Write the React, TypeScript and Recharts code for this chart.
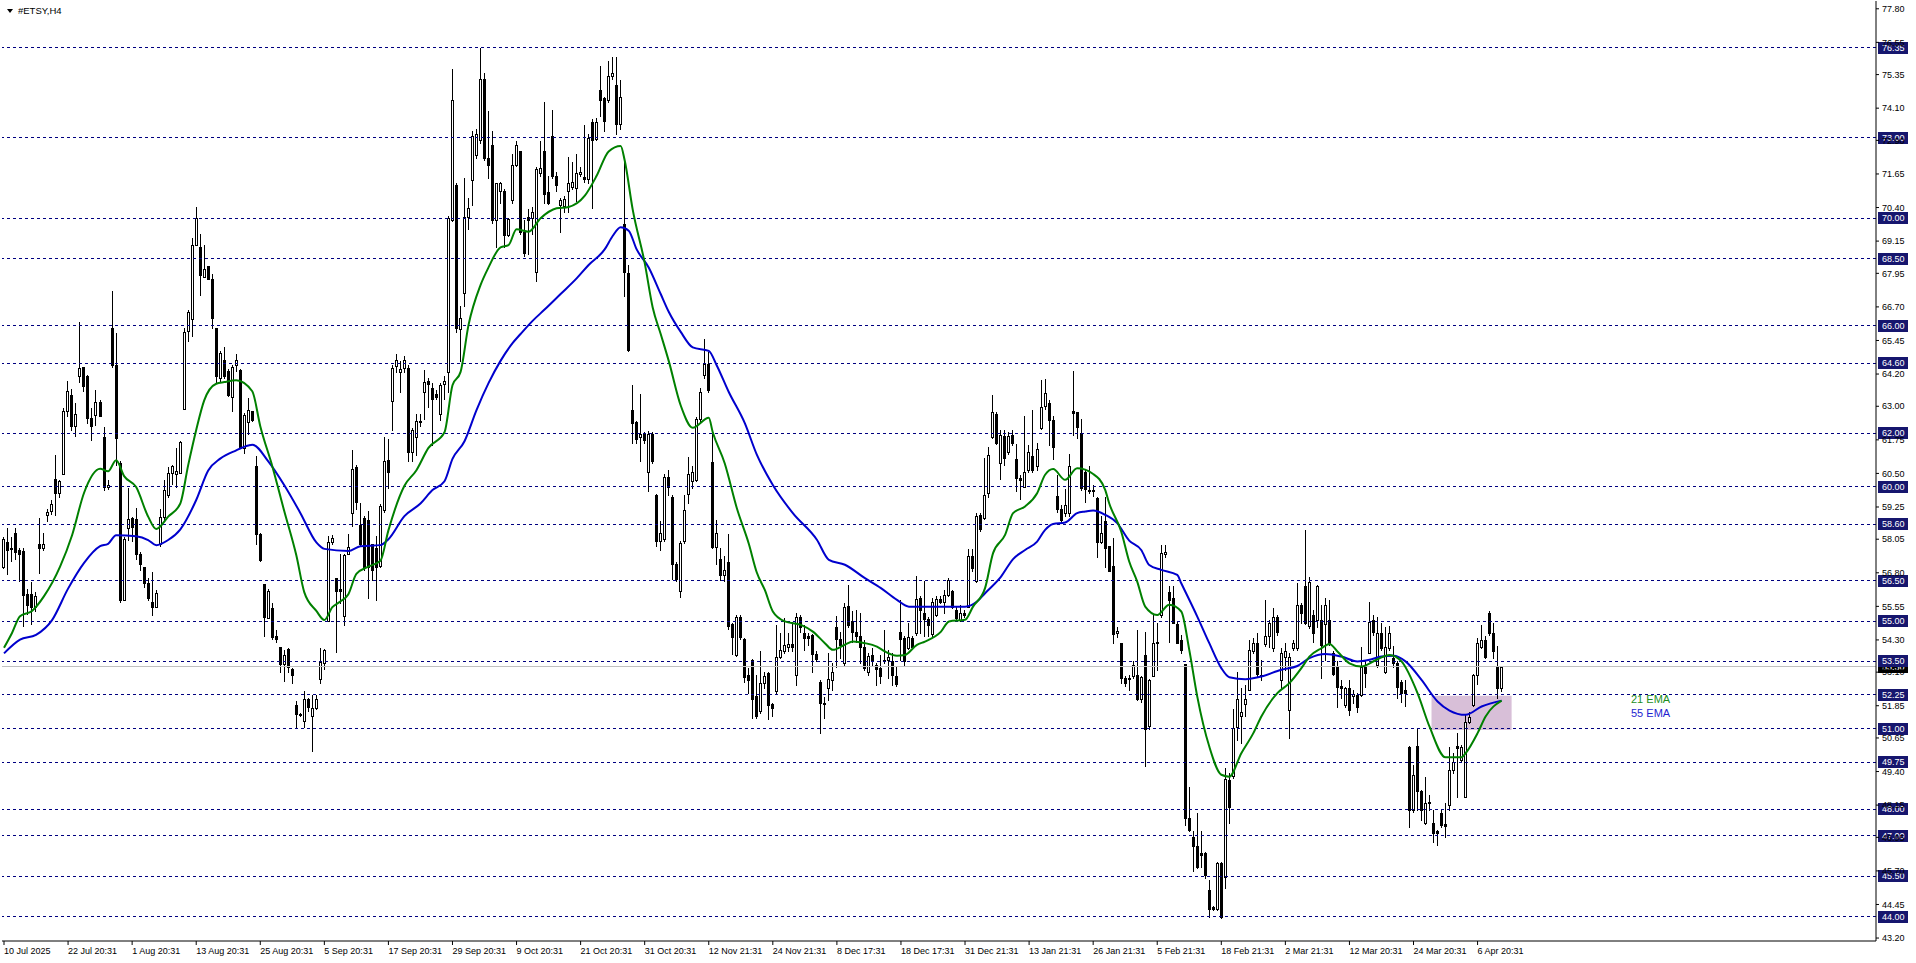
import React from "react";
import {
  ComposedChart,
  Bar,
  Line,
  XAxis,
  YAxis,
  ReferenceLine,
  ReferenceArea,
} from "recharts";

// H4 candles, [open, high, low, close], one per bar
const ohlc: [number, number, number, number][] = [
  [57.03, 58.13, 56.96, 58.06], [57.93, 58.48, 56.76, 57.65], [57.72, 58.13, 57.24, 57.7], [58.27, 58.48, 57.31, 57.58],
  [57.65, 57.72, 56.48, 57.51], [57.61, 57.72, 54.83, 55.98], [56.0, 56.21, 55.25, 55.59], [56.0, 56.44, 54.9, 55.52],
  [55.52, 56.07, 55.38, 55.93], [57.86, 58.85, 56.8, 57.72], [57.72, 58.3, 57.65, 57.88], [58.96, 59.16, 58.71, 59.07],
  [59.09, 59.51, 58.98, 59.37], [60.3, 61.18, 58.96, 59.78], [59.78, 60.26, 59.64, 60.22], [60.47, 62.94, 60.47, 62.83],
  [62.83, 63.95, 62.64, 63.56], [63.42, 63.63, 62.12, 62.26], [62.26, 63.11, 61.91, 62.71], [64.11, 66.14, 63.9, 64.41],
  [64.45, 64.48, 63.56, 63.77], [64.14, 64.18, 62.39, 62.57], [62.57, 62.94, 61.75, 62.26], [62.67, 63.6, 62.3, 63.15],
  [63.15, 63.22, 62.64, 62.64], [61.87, 62.23, 59.89, 59.99], [59.99, 60.26, 59.92, 60.08], [65.9, 67.31, 64.45, 64.52],
  [64.52, 65.73, 60.81, 61.82], [60.88, 60.95, 55.73, 55.77], [55.77, 58.13, 55.77, 58.06], [58.48, 59.95, 58.02, 58.82],
  [58.85, 58.89, 57.99, 58.52], [58.82, 59.23, 57.31, 57.51], [57.51, 57.58, 56.9, 57.14], [57.01, 57.03, 56.28, 56.41],
  [56.41, 56.62, 55.8, 55.87], [55.73, 56.83, 55.22, 55.52], [55.52, 56.17, 55.52, 56.03], [57.86, 59.16, 57.79, 58.89],
  [58.89, 60.26, 58.82, 59.89], [59.71, 60.74, 59.64, 60.5], [60.5, 60.8, 60.12, 60.77], [60.47, 61.43, 59.99, 60.58],
  [60.52, 61.71, 60.5, 61.66], [62.91, 65.9, 62.91, 65.76], [65.8, 66.58, 65.42, 66.52], [66.24, 69.26, 65.62, 68.99],
  [68.99, 70.43, 68.99, 70.02], [68.92, 69.4, 67.13, 67.89], [67.82, 68.99, 67.8, 68.12], [68.23, 68.23, 67.75, 67.75],
  [67.75, 67.92, 65.9, 66.27], [65.92, 65.92, 63.9, 64.11], [64.04, 65.07, 63.9, 65.0], [64.73, 65.21, 64.04, 64.11],
  [64.32, 64.39, 63.4, 63.42], [63.35, 64.55, 62.81, 64.48], [64.55, 64.93, 64.32, 64.73], [64.34, 64.39, 61.43, 61.43],
  [61.43, 62.74, 61.27, 62.67], [62.43, 63.29, 61.98, 62.87], [62.81, 62.83, 62.46, 62.5], [60.77, 61.16, 57.86, 58.24],
  [58.23, 58.27, 57.24, 57.27], [56.37, 56.37, 54.45, 55.15], [55.11, 56.21, 55.11, 56.14], [55.48, 55.69, 54.35, 54.42],
  [54.45, 54.66, 54.22, 54.35], [54.05, 54.05, 53.12, 53.42], [53.39, 53.94, 52.77, 53.73], [53.98, 54.01, 53.12, 53.29],
  [53.21, 53.24, 52.7, 52.98], [51.88, 52.02, 51.01, 51.54], [51.56, 51.59, 51.47, 51.51], [51.3, 52.4, 51.06, 52.09],
  [52.11, 52.15, 51.67, 51.81], [51.47, 52.25, 50.16, 51.77], [51.77, 52.25, 51.74, 52.11], [52.84, 54.01, 52.7, 53.46],
  [53.43, 53.98, 53.21, 53.94], [55.0, 58.16, 55.0, 57.93], [57.93, 58.2, 57.86, 58.09], [56.59, 56.62, 53.84, 56.14],
  [56.18, 57.51, 55.66, 56.14], [55.18, 57.51, 54.87, 57.45], [57.51, 58.24, 57.51, 57.75], [59.03, 61.36, 58.54, 60.67],
  [60.74, 60.81, 59.16, 59.44], [58.57, 59.4, 57.79, 57.86], [58.85, 58.93, 56.9, 57.03], [58.75, 59.09, 55.87, 57.03],
  [57.86, 57.88, 56.55, 56.9], [57.72, 58.16, 55.8, 57.03], [57.05, 59.35, 57.0, 59.3], [59.13, 61.87, 59.05, 60.96],
  [60.99, 61.78, 59.96, 60.54], [63.2, 64.52, 62.12, 64.44], [64.49, 64.94, 64.27, 64.72], [64.27, 64.69, 63.53, 64.39],
  [64.44, 64.86, 64.27, 64.72], [64.44, 64.52, 60.96, 61.29], [61.29, 62.2, 60.96, 62.12], [61.87, 62.7, 61.2, 62.45],
  [62.4, 62.7, 62.25, 62.45], [63.53, 64.36, 62.53, 63.89], [63.94, 64.06, 62.99, 63.83], [63.69, 63.86, 61.54, 63.28],
  [63.45, 63.61, 63.28, 63.36], [62.73, 63.86, 62.5, 63.81], [63.83, 64.11, 63.28, 63.94], [64.27, 70.08, 63.53, 70.0],
  [69.92, 75.56, 69.9, 74.4], [71.25, 71.33, 65.77, 65.93], [65.88, 66.73, 64.69, 66.27], [67.21, 71.49, 66.73, 70.05],
  [70.05, 70.75, 69.59, 70.38], [71.41, 73.24, 70.5, 73.07], [72.36, 73.32, 72.24, 73.12], [72.91, 76.34, 72.82, 75.18],
  [75.18, 75.4, 72.16, 72.24], [72.24, 73.98, 71.49, 71.99], [72.74, 73.24, 69.83, 69.92], [69.92, 71.33, 68.92, 71.33],
  [71.03, 71.36, 70.58, 71.3], [71.03, 71.08, 68.92, 69.39], [69.39, 70.0, 69.34, 69.97], [70.67, 72.41, 70.58, 71.99],
  [71.99, 72.86, 71.96, 72.71], [72.49, 72.52, 69.42, 69.5], [69.5, 69.92, 68.59, 68.71], [70.03, 70.33, 68.67, 69.92],
  [70.0, 70.41, 69.42, 70.25], [68.01, 71.91, 67.68, 71.83], [71.69, 72.86, 71.58, 71.88], [72.49, 74.32, 70.58, 70.91],
  [70.96, 71.58, 70.53, 70.58], [73.07, 74.02, 71.49, 71.58], [71.58, 71.74, 71.0, 71.25], [70.5, 70.75, 69.5, 70.67],
  [70.46, 70.83, 70.25, 70.7], [71.0, 72.29, 70.25, 71.33], [71.16, 72.08, 71.08, 71.36], [71.13, 72.41, 70.63, 71.69],
  [71.66, 71.91, 71.58, 71.72], [71.53, 73.49, 71.36, 71.46], [71.46, 73.15, 71.33, 72.99], [73.57, 73.69, 70.37, 72.91],
  [72.96, 73.74, 72.91, 73.57], [74.78, 75.68, 73.82, 74.4], [74.48, 74.51, 73.24, 73.62], [74.4, 75.84, 74.32, 75.28],
  [75.28, 76.01, 75.18, 75.4], [74.98, 76.01, 73.15, 73.52], [73.52, 75.15, 73.32, 74.52], [69.8, 72.24, 67.1, 68.01],
  [67.98, 68.26, 65.06, 65.11], [62.86, 63.78, 61.62, 62.37], [62.4, 62.45, 61.62, 61.78], [61.87, 63.45, 60.96, 61.95],
  [61.95, 62.03, 61.62, 61.73], [60.54, 62.07, 59.84, 61.95], [61.95, 62.03, 60.87, 60.96], [59.71, 59.74, 57.8, 57.97],
  [57.97, 58.71, 57.64, 58.3], [58.05, 60.46, 57.97, 60.37], [60.37, 60.62, 59.71, 59.99], [59.63, 59.68, 56.56, 57.14],
  [57.14, 57.22, 56.48, 56.56], [56.14, 57.97, 55.89, 57.92], [57.97, 59.71, 57.92, 59.13], [59.74, 61.12, 59.38, 60.46],
  [60.21, 60.79, 59.96, 60.54], [60.24, 62.61, 60.21, 62.53], [62.53, 63.69, 62.45, 63.53], [64.16, 65.49, 64.06, 64.56],
  [64.56, 65.02, 63.53, 63.61], [60.91, 61.95, 57.72, 57.75], [57.75, 58.75, 57.14, 58.3], [57.3, 57.72, 56.52, 56.72],
  [56.72, 57.42, 56.48, 56.92], [57.19, 58.25, 54.7, 54.81], [54.9, 54.93, 53.77, 54.4], [53.73, 55.23, 53.7, 55.15],
  [55.15, 55.23, 54.32, 54.4], [54.32, 54.37, 52.74, 52.91], [53.0, 53.24, 52.32, 52.82], [53.57, 53.6, 51.41, 52.11],
  [52.2, 53.0, 51.39, 51.45], [51.64, 53.87, 51.57, 52.69], [52.69, 53.12, 52.51, 52.94], [53.06, 53.12, 51.35, 51.88],
  [51.92, 51.94, 51.45, 51.76], [52.38, 54.86, 52.32, 53.68], [53.68, 54.55, 53.62, 53.93], [53.87, 55.11, 53.81, 54.12],
  [54.03, 54.55, 53.87, 54.15], [54.15, 54.95, 53.87, 54.03], [53.0, 55.3, 52.63, 55.17], [55.17, 55.23, 54.61, 54.8],
  [54.55, 54.86, 53.93, 54.37], [54.45, 54.55, 54.12, 54.37], [54.49, 54.52, 53.12, 53.78], [53.78, 53.87, 53.5, 53.58],
  [52.75, 52.81, 50.85, 51.95], [51.97, 52.19, 51.39, 51.92], [52.5, 53.81, 52.07, 52.84], [52.81, 53.43, 52.44, 53.09],
  [54.8, 55.2, 53.31, 54.33], [54.33, 54.58, 53.62, 54.12], [53.43, 55.69, 53.37, 55.54], [55.56, 56.35, 54.8, 54.86],
  [54.99, 55.36, 54.24, 54.61], [54.58, 55.42, 54.24, 54.45], [54.45, 55.3, 53.43, 54.03], [54.05, 54.3, 53.19, 53.25],
  [53.09, 53.81, 53.0, 53.71], [53.74, 53.99, 53.34, 53.56], [53.37, 53.43, 52.63, 53.21], [53.25, 53.74, 52.69, 52.94],
  [53.56, 54.68, 53.43, 53.5], [53.56, 53.93, 52.88, 53.68], [53.53, 53.81, 52.63, 53.0], [52.96, 53.31, 52.59, 52.65],
  [54.61, 55.79, 53.56, 54.33], [54.37, 54.43, 53.37, 53.5], [53.99, 54.92, 53.96, 54.4], [54.37, 54.43, 53.99, 54.05],
  [54.55, 56.69, 54.49, 55.82], [55.85, 55.92, 54.55, 55.42], [55.3, 56.51, 54.43, 55.07], [55.07, 55.17, 54.43, 54.86],
  [54.53, 55.85, 54.4, 55.73], [55.23, 55.92, 55.2, 55.82], [55.82, 55.92, 55.67, 55.73], [55.73, 56.17, 55.3, 55.98],
  [55.98, 56.6, 55.92, 56.54], [56.14, 56.17, 55.48, 55.54], [55.4, 55.54, 55.05, 55.11], [55.05, 55.61, 55.02, 55.3],
  [55.3, 55.42, 55.17, 55.23], [55.54, 57.68, 55.51, 57.43], [57.43, 57.68, 56.85, 56.97], [56.48, 59.02, 56.44, 58.9],
  [58.96, 59.02, 58.37, 58.42], [58.83, 61.07, 58.8, 59.7], [59.76, 61.5, 59.64, 61.19], [61.85, 63.42, 61.81, 62.77],
  [62.72, 62.77, 61.6, 61.65], [60.88, 62.12, 60.29, 61.94], [61.9, 62.1, 60.82, 61.07], [61.28, 62.06, 61.23, 61.9],
  [61.94, 62.12, 61.56, 61.63], [61.03, 61.6, 59.83, 60.32], [60.32, 60.44, 59.54, 60.24], [60.01, 62.62, 59.99, 60.57],
  [60.61, 61.56, 60.57, 61.28], [61.15, 62.87, 60.57, 60.61], [60.78, 61.63, 60.63, 61.4], [62.18, 63.98, 62.15, 62.97],
  [63.01, 64.01, 62.89, 63.51], [63.14, 63.24, 61.56, 62.49], [62.49, 62.62, 61.03, 61.5], [59.66, 60.45, 59.08, 59.17],
  [59.17, 59.33, 58.67, 58.75], [59.04, 59.91, 58.92, 59.33], [59.04, 61.23, 58.92, 60.76], [62.84, 64.33, 61.94, 62.74],
  [62.77, 62.8, 61.81, 62.22], [62.0, 62.52, 59.89, 59.95], [60.57, 60.66, 59.45, 59.91], [59.89, 60.76, 59.76, 59.83],
  [59.89, 60.07, 59.66, 59.85], [59.58, 59.64, 57.38, 57.96], [57.96, 58.9, 57.9, 58.3], [58.71, 59.64, 57.03, 57.72],
  [57.78, 57.8, 56.85, 56.88], [57.06, 58.09, 54.2, 54.53], [54.55, 54.8, 54.4, 54.65], [54.18, 54.2, 52.69, 52.88],
  [52.88, 52.94, 52.59, 52.69], [52.84, 53.0, 52.44, 52.88], [52.94, 53.5, 52.88, 53.37], [53.0, 54.67, 52.07, 52.09],
  [52.09, 52.94, 52.0, 52.91], [53.74, 54.61, 49.61, 50.98], [51.08, 52.84, 50.98, 52.81], [52.96, 55.23, 52.94, 54.18],
  [54.18, 54.92, 53.19, 54.24], [55.23, 57.84, 55.17, 57.53], [57.5, 57.84, 57.4, 57.59], [56.1, 56.29, 54.24, 55.79],
  [55.85, 56.29, 54.92, 54.92], [54.9, 54.98, 54.18, 54.18], [54.28, 54.49, 53.83, 53.93], [53.41, 53.41, 47.41, 47.66],
  [47.66, 48.84, 47.17, 47.23], [46.98, 47.17, 45.68, 46.61], [46.63, 47.85, 45.8, 45.86], [46.36, 47.17, 45.86, 46.3],
  [46.36, 46.42, 45.43, 45.55], [45.0, 45.37, 44.0, 44.28], [44.35, 44.39, 44.26, 44.28], [44.28, 46.05, 44.26, 45.99],
  [45.99, 46.05, 43.94, 44.0], [45.47, 49.52, 45.06, 49.11], [49.09, 49.34, 47.5, 48.07], [49.24, 51.72, 49.15, 51.01],
  [51.07, 53.12, 50.58, 52.09], [51.45, 52.5, 50.46, 51.63], [51.92, 52.63, 51.45, 52.09], [52.44, 54.28, 52.42, 53.93],
  [53.87, 54.37, 53.83, 54.18], [54.18, 54.55, 52.94, 53.04], [52.94, 53.56, 52.81, 53.0], [54.15, 55.79, 54.08, 54.45],
  [54.45, 55.05, 54.05, 54.92], [53.99, 55.48, 53.87, 55.17], [55.14, 55.23, 54.49, 54.58], [52.81, 53.99, 52.5, 53.83],
  [53.68, 54.18, 53.19, 53.87], [51.7, 53.8, 50.64, 53.68], [53.99, 54.3, 53.93, 54.18], [53.99, 56.41, 53.93, 55.61],
  [55.61, 55.69, 54.92, 55.3], [56.29, 58.4, 54.9, 54.92], [54.82, 56.66, 54.74, 56.47], [55.23, 55.42, 54.24, 54.55],
  [55.05, 56.35, 54.8, 56.29], [55.05, 55.61, 52.88, 54.12], [54.9, 55.85, 53.56, 55.61], [55.05, 55.79, 54.12, 54.18],
  [53.81, 53.87, 53.0, 53.04], [53.33, 53.5, 51.82, 52.56], [52.59, 52.81, 52.13, 52.5], [51.88, 52.56, 51.82, 52.5],
  [52.5, 52.81, 51.51, 51.7], [52.22, 52.44, 51.95, 52.3], [52.25, 52.34, 51.63, 51.82], [52.25, 54.05, 52.22, 53.31],
  [53.31, 53.56, 52.56, 53.06], [53.83, 55.73, 53.81, 54.98], [55.05, 55.23, 54.49, 54.61], [53.37, 55.17, 53.31, 54.55],
  [54.55, 54.92, 53.93, 53.99], [53.12, 54.8, 53.06, 54.05], [53.99, 54.82, 53.93, 54.55], [53.62, 54.08, 53.31, 53.43],
  [53.43, 53.5, 52.13, 52.56], [52.75, 52.81, 52.0, 52.32], [52.44, 52.81, 51.85, 52.34], [50.33, 50.36, 47.35, 47.97],
  [47.97, 49.65, 47.91, 49.28], [50.36, 50.98, 47.97, 48.66], [48.66, 48.72, 47.6, 47.97], [47.48, 49.21, 47.45, 48.22],
  [48.28, 48.53, 47.97, 48.22], [47.48, 47.97, 46.76, 47.1], [47.17, 47.23, 46.67, 47.1], [47.87, 47.97, 47.35, 47.41],
  [47.45, 48.22, 46.98, 47.38], [48.16, 50.33, 47.97, 49.46], [49.46, 50.08, 49.34, 49.77], [50.36, 50.83, 48.47, 50.27],
  [49.84, 50.39, 49.77, 50.33], [48.47, 51.51, 48.44, 51.26], [51.26, 51.63, 51.2, 51.42], [51.88, 53.04, 51.85, 53.0],
  [53.0, 54.37, 52.66, 54.18], [54.05, 54.86, 53.99, 54.3], [54.3, 54.43, 53.62, 53.68], [55.3, 55.39, 54.49, 54.55],
  [54.55, 54.92, 53.62, 53.87], [53.31, 54.08, 52.13, 52.5], [52.5, 53.34, 52.41, 53.31],
];

// 21 EMA read at sampled bars: [bar, value]
const ema21Points: [number, number][] = [
  [0, 54.01], [2, 54.56], [4, 55.18], [7, 55.38], [10, 55.93], [14, 57.03], [17, 58.2], [20, 59.78], [24, 60.67],
  [26, 60.58], [28, 60.99], [30, 60.4], [33, 59.99], [36, 58.89], [38, 58.43], [41, 58.89], [44, 59.37], [46, 60.81],
  [48, 62.12], [50, 63.22], [53, 63.84], [55, 63.9], [58, 63.97], [62, 63.56], [64, 62.26], [67, 60.77], [70, 59.09],
  [73, 57.45], [75, 56.07], [78, 55.38], [80, 55.04], [82, 55.52], [84, 55.73], [86, 56.0], [88, 56.76], [91, 57.03],
  [94, 57.25], [96, 58.38], [100, 60.04], [103, 60.62], [106, 61.45], [110, 62.03], [112, 63.78], [114, 64.27],
  [116, 66.02], [119, 67.51], [121, 68.17], [124, 68.92], [126, 69.0], [128, 69.59], [131, 69.5], [134, 70.0],
  [138, 70.37], [141, 70.42], [145, 70.83], [148, 71.58], [151, 72.49], [154, 72.69], [155, 72.16], [157, 70.33],
  [160, 68.34], [162, 66.68], [164, 65.69], [166, 64.69], [169, 63.03], [172, 62.2], [176, 62.57], [177, 62.03],
  [180, 60.87], [183, 59.21], [186, 57.88], [188, 56.81], [190, 56.16], [192, 55.36], [195, 54.99], [199, 54.86],
  [202, 54.61], [205, 54.18], [207, 53.93], [210, 54.12], [212, 54.24], [215, 54.18], [218, 54.05], [220, 53.87],
  [223, 53.71], [225, 53.74], [228, 54.12], [230, 54.24], [234, 54.61], [236, 54.99], [240, 55.05], [242, 55.54],
  [245, 56.23], [247, 57.53], [250, 58.21], [252, 59.02], [255, 59.27], [258, 59.76], [260, 60.45], [262, 60.66],
  [265, 60.26], [268, 60.69], [272, 60.48], [275, 59.89], [276, 59.39], [279, 58.34], [281, 57.22], [283, 56.47],
  [285, 55.54], [288, 55.23], [291, 55.61], [294, 55.36], [296, 53.93], [298, 52.19], [301, 50.33], [304, 49.28],
  [306, 49.21], [309, 50.08], [312, 50.83], [314, 51.45], [318, 52.32], [321, 52.69], [324, 53.25], [326, 53.68],
  [329, 53.99], [331, 54.15], [333, 53.87], [336, 53.43], [339, 53.31], [343, 53.58], [346, 53.74], [349, 53.5],
  [353, 52.32], [356, 51.07], [360, 49.93], [364, 49.93], [365, 50.08], [368, 50.83], [370, 51.45], [374, 52.04],
];

// 55 EMA read at sampled bars: [bar, value]
const ema55Points: [number, number][] = [
  [0, 53.8], [4, 54.31], [8, 54.49], [12, 55.04], [16, 56.21], [20, 57.17], [24, 57.79], [26, 57.88], [28, 58.2],
  [33, 58.16], [36, 58.02], [38, 57.83], [41, 58.02], [44, 58.41], [48, 59.51], [51, 60.61], [54, 61.05], [58, 61.36],
  [61, 61.54], [62, 61.57], [66, 60.95], [70, 60.06], [74, 59.03], [78, 57.93], [80, 57.69], [86, 57.61], [89, 57.79],
  [94, 57.83], [96, 58.05], [100, 58.91], [104, 59.38], [107, 59.88], [110, 60.21], [112, 61.04], [115, 61.7],
  [118, 62.86], [121, 63.86], [124, 64.69], [127, 65.35], [129, 65.69], [132, 66.18], [135, 66.6], [139, 67.18],
  [143, 67.76], [146, 68.26], [150, 68.84], [152, 69.34], [154, 69.67], [156, 69.54], [158, 68.84], [161, 68.17],
  [164, 67.18], [166, 66.52], [169, 65.77], [172, 65.19], [176, 65.06], [178, 64.52], [181, 63.53], [185, 62.37],
  [188, 61.2], [192, 60.07], [197, 59.02], [203, 58.03], [206, 57.28], [210, 57.1], [215, 56.6], [219, 56.23],
  [223, 55.79], [226, 55.54], [230, 55.54], [235, 55.54], [240, 55.54], [243, 55.73], [245, 56.04], [249, 56.66],
  [252, 57.31], [255, 57.65], [258, 57.96], [260, 58.4], [262, 58.62], [265, 58.67], [268, 59.02], [270, 59.08],
  [272, 59.12], [275, 58.96], [278, 58.65], [281, 58.0], [284, 57.65], [286, 57.09], [289, 56.91], [293, 56.72],
  [294, 56.41], [298, 55.17], [301, 54.18], [304, 53.25], [306, 52.91], [310, 52.84], [314, 52.94], [319, 53.19],
  [323, 53.33], [326, 53.62], [330, 53.78], [334, 53.68], [338, 53.5], [341, 53.56], [344, 53.68], [347, 53.71],
  [350, 53.5], [354, 52.81], [358, 52.01], [361, 51.67], [365, 51.51], [369, 51.82], [374, 52.04],
];

const levels = [76.35, 73.0, 70.0, 68.5, 66.0, 64.6, 62.0, 60.0, 58.6, 56.5, 55.0, 53.5, 52.25, 51.0, 49.75, 48.0, 47.0, 45.5, 44.0];

const priceTicks = [
  77.8, 76.55, 75.35, 74.1, 72.9, 71.65, 70.4, 69.15, 67.95, 66.7, 65.45, 64.2, 63.0, 61.75, 60.5, 59.25, 58.05,
  56.8, 55.55, 54.3, 53.1, 51.85, 50.65, 49.4, 48.15, 46.95, 45.7, 44.45, 43.2,
];

const timeLabels = [
  "10 Jul 2025", "22 Jul 20:31", "1 Aug 20:31", "13 Aug 20:31", "25 Aug 20:31", "5 Sep 20:31", "17 Sep 20:31",
  "29 Sep 20:31", "9 Oct 20:31", "21 Oct 20:31", "31 Oct 20:31", "12 Nov 21:31", "24 Nov 21:31", "8 Dec 17:31",
  "18 Dec 17:31", "31 Dec 21:31", "13 Jan 21:31", "26 Jan 21:31", "5 Feb 21:31", "18 Feb 21:31", "2 Mar 21:31",
  "12 Mar 20:31", "24 Mar 20:31", "6 Apr 20:31",
];
const timeLabelStep = 16;

const lastPrice = 53.3;
const zoneLow = 50.95;
const zoneHigh = 52.22;
const zoneFrom = 357;
const zoneTo = 376;

const SLOTS = 468; // bars plus empty space to the right, like the terminal's shift
const FONT = "'Liberation Sans', Arial, sans-serif";
const NAVY = "#16166e";

type Row = {
  t: number;
  range: [number, number] | null;
  o?: number;
  h?: number;
  l?: number;
  c?: number;
  e21?: number;
  e55?: number;
};

const rows: Row[] = Array.from({ length: SLOTS }, (_, t) => {
  const k = ohlc[t];
  if (!k) return { t, range: null };
  const [o, h, l, c] = k;
  return { t, range: [l, h], o, h, l, c };
});
ema21Points.forEach(([i, v]) => (rows[i].e21 = v));
ema55Points.forEach(([i, v]) => (rows[i].e55 = v));

const timeTicks = timeLabels.map((_, i) => i * timeLabelStep);

function Candle(props: any) {
  const { x, y, width, height, payload } = props;
  if (!payload || payload.o == null) return null;
  const top = Math.min(y, y + height);
  const bot = Math.max(y, y + height);
  const span = payload.h - payload.l;
  const py = (p: number) => (span > 0 ? top + ((payload.h - p) / span) * (bot - top) : top);
  const cx = Math.floor(x + width / 2);
  const yo = py(payload.o);
  const yc = py(payload.c);
  const bt = Math.round(Math.min(yo, yc));
  const bb = Math.round(Math.max(yo, yc));
  const up = payload.c >= payload.o;
  return (
    <g shapeRendering="crispEdges">
      <line x1={cx + 0.5} x2={cx + 0.5} y1={Math.round(top)} y2={Math.round(bot) + 1} stroke="#000" strokeWidth={1} />
      {up ? (
        <rect x={cx - 0.5} y={bt + 0.5} width={2} height={Math.max(bb - bt, 1)} fill="#fff" stroke="#000" strokeWidth={1} />
      ) : (
        <rect x={cx - 1} y={bt} width={3} height={Math.max(bb - bt, 1) + 1} fill="#000" />
      )}
    </g>
  );
}

function TimeTick(props: any) {
  const { x, y, payload } = props;
  const label = timeLabels[Math.round(payload.value / timeLabelStep)];
  return (
    <text x={x} y={y} dy={9} fontSize={9} fontFamily={FONT} fill="#000" textAnchor="start">
      {label}
    </text>
  );
}

// price box on the right scale, for levels and the bid line
const priceBox = (text: string, fill: string) => (props: any) => {
  const vb = props.viewBox || {};
  const right = (vb.x || 0) + (vb.width || 0);
  const y = Math.round(vb.y || 0);
  return (
    <g>
      <rect x={right + 2} y={y - 6} width={30} height={12} fill={fill} shapeRendering="crispEdges" />
      <text x={right + 6} y={y} dy="0.35em" fontSize={9} fontFamily={FONT} fill="#fff">
        {text}
      </text>
    </g>
  );
};

export default function App() {
  return (
    <div style={{ position: "absolute", left: 0, top: 0, width: 1916, height: 963, background: "#fff" }}>
      <ComposedChart
        width={1916}
        height={963}
        data={rows}
        margin={{ top: 1, right: 0, bottom: 0, left: 2 }}
        barCategoryGap="10%"
      >
        <XAxis
          dataKey="t"
          type="category"
          ticks={timeTicks}
          interval={0}
          height={22}
          tickSize={4}
          tickMargin={0}
          tick={<TimeTick />}
          tickLine={{ stroke: "#000" }}
          axisLine={{ stroke: "#000" }}
        />
        <XAxis xAxisId="top" orientation="top" dataKey="t" height={0} tick={false} tickLine={false} axisLine={{ stroke: "#000" }} />
        <YAxis
          orientation="right"
          type="number"
          domain={[43.09, 78.09]}
          allowDataOverflow
          ticks={priceTicks}
          interval={0}
          width={40}
          tickSize={3}
          tickMargin={3}
          tickFormatter={(v: number) => v.toFixed(2)}
          tick={{ fontSize: 9, fontFamily: FONT, fill: "#000" }}
          tickLine={{ stroke: "#000" }}
          axisLine={{ stroke: "#000" }}
        />
        <YAxis
          yAxisId="left"
          orientation="left"
          type="number"
          domain={[43.09, 78.09]}
          width={0}
          tick={false}
          tickLine={false}
          axisLine={{ stroke: "#000" }}
        />
        <ReferenceArea x1={zoneFrom} x2={zoneTo} y1={zoneLow} y2={zoneHigh} fill="#D8BFD8" fillOpacity={1} stroke="none" />
        <ReferenceLine
          y={lastPrice}
          stroke="#c0c0c0"
          strokeWidth={1}
          shapeRendering="crispEdges"
          label={priceBox(lastPrice.toFixed(2), "#000")}
        />
        {levels.map((lv) => (
          <ReferenceLine
            key={lv}
            y={lv}
            stroke="#000080"
            strokeDasharray="3 3"
            strokeWidth={1}
            shapeRendering="crispEdges"
            label={priceBox(lv.toFixed(2), NAVY)}
          />
        ))}
        <Bar dataKey="range" shape={<Candle />} isAnimationActive={false} />
        <Line dataKey="e55" type="monotone" stroke="#0000cd" strokeWidth={2} dot={false} connectNulls isAnimationActive={false} />
        <Line dataKey="e21" type="monotone" stroke="#008000" strokeWidth={2} dot={false} connectNulls isAnimationActive={false} />
      </ComposedChart>

      <div style={{ position: "absolute", left: 7, top: 9, width: 0, height: 0, borderLeft: "3px solid transparent", borderRight: "3px solid transparent", borderTop: "4px solid #000" }} />
      <div style={{ position: "absolute", left: 18, top: 4, fontFamily: FONT, fontSize: 9.5, lineHeight: "13px", color: "#000" }}>#ETSY,H4</div>
      <div style={{ position: "absolute", left: 1631, top: 693, fontFamily: FONT, fontSize: 11, lineHeight: "13px", color: "#1d8f1d" }}>21 EMA</div>
      <div style={{ position: "absolute", left: 1631, top: 707, fontFamily: FONT, fontSize: 11, lineHeight: "13px", color: "#1f1fd0" }}>55 EMA</div>
    </div>
  );
}
